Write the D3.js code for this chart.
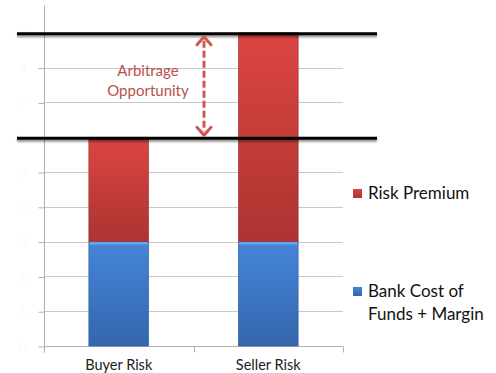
<!DOCTYPE html>
<html>
<head>
<meta charset="utf-8">
<script src="https://cdn.jsdelivr.net/npm/d3@7"></script>
<style>
  body { margin: 0; background: #fff; }
  text { font-family: Lato, "Open Sans", sans-serif; }
</style>
</head>
<body>
<svg width="496" height="373"></svg>
<script>
// chart data
var categories = ["Buyer Risk", "Seller Risk"];
var bankCost = [3, 3];
var riskPremium = [3, 6];
var seriesNames = ["Risk Premium", "Bank Cost of Funds + Margin"];
var yTicks = [0, 1, 2, 3, 4, 5, 6, 7, 8, 9];
var levels = [6, 9]; // the two black lines

var svg = d3.select("svg");
var defs = svg.append("defs");

function grad(id, c1, c2) {
  var g = defs.append("linearGradient").attr("id", id)
    .attr("x1", 0).attr("y1", 0).attr("x2", 0).attr("y2", 1);
  g.append("stop").attr("offset", "0%").attr("stop-color", c1);
  g.append("stop").attr("offset", "100%").attr("stop-color", c2);
}
grad("red", "#dc4542", "#ab3431");
grad("blue", "#4585d8", "#3466ad");

// soft shadow under the black lines (user space so a flat line still gets a region)
var shadow = defs.append("filter").attr("id", "sh").attr("filterUnits", "userSpaceOnUse")
  .attr("x", 0).attr("y", 0).attr("width", 496).attr("height", 373);
shadow.append("feGaussianBlur").attr("in", "SourceAlpha").attr("stdDeviation", 1.2);
shadow.append("feOffset").attr("dy", 1.5).attr("result", "b");
shadow.append("feComponentTransfer").append("feFuncA").attr("type", "linear").attr("slope", 0.45);
var m = shadow.append("feMerge");
m.append("feMergeNode");
m.append("feMergeNode").attr("in", "SourceGraphic");

var x = d3.scaleBand().domain(categories).range([44, 343]).paddingInner(0).paddingOuter(0);
var y = d3.scaleLinear().domain([0, 9.8]).range([346, 5]);
var barW = x.bandwidth() * 0.4;

// gridlines
svg.append("g").selectAll("line").data(yTicks.slice(1)).enter().append("line")
  .attr("x1", 44).attr("x2", 343)
  .attr("y1", function(d) { return Math.round(y(d)) + 0.5; })
  .attr("y2", function(d) { return Math.round(y(d)) + 0.5; })
  .style("stroke", "#c8c8c8").style("stroke-width", "1px");

// y axis (labels nearly invisible as in the original)
var yAxis = svg.append("g").attr("transform", "translate(44.5,0.5)")
  .call(d3.axisLeft(y).tickValues(yTicks).tickSize(6).tickSizeOuter(0));
yAxis.select(".domain").attr("d", "M0," + y(9.8) + "V" + (y(0) + 6)).style("stroke", "#b0b0b0");
yAxis.selectAll(".tick line").style("stroke", "#b0b0b0");
yAxis.selectAll(".tick text").style("fill", "#fafafa").style("font-size", "12px").attr("x", -18);

// x axis
var xAxis = svg.append("g").attr("transform", "translate(0," + (y(0) + 0.5) + ")");
xAxis.append("line").attr("x1", 44).attr("x2", 343).style("stroke", "#b0b0b0");
xAxis.selectAll(".xt").data([44, 193.5, 343]).enter().append("line")
  .attr("x1", function(d) { return Math.round(d) + 0.5; })
  .attr("x2", function(d) { return Math.round(d) + 0.5; })
  .attr("y1", 0).attr("y2", 6).style("stroke", "#b0b0b0");
xAxis.selectAll("text").data(categories).enter().append("text")
  .attr("x", function(d) { return x(d) + x.bandwidth() / 2; })
  .attr("y", 23).attr("text-anchor", "middle")
  .style("font-size", "14.5px").style("fill", "#222")
  .text(function(d) { return d; });

// bars
var bars = svg.append("g");
categories.forEach(function(c, i) {
  var bx = x(c) + (x.bandwidth() - barW) / 2;
  bars.append("rect").attr("x", bx).attr("width", barW)
    .attr("y", y(bankCost[i])).attr("height", y(0) - y(bankCost[i]))
    .style("fill", "url(#blue)").style("stroke", "#2f5d99").style("stroke-width", 0.6);
  bars.append("rect").attr("x", bx + 1).attr("width", barW - 2)
    .attr("y", y(bankCost[i]) + 0.5).attr("height", 2.5).style("fill", "#6aa6ec");
  var top = bankCost[i] + riskPremium[i];
  bars.append("rect").attr("x", bx).attr("width", barW)
    .attr("y", y(top)).attr("height", y(bankCost[i]) - y(top))
    .style("fill", "url(#red)").style("stroke", "#983230").style("stroke-width", 0.6);
});

// black level lines
svg.append("g").selectAll("line").data(levels).enter().append("line")
  .attr("x1", 17).attr("x2", 377)
  .attr("y1", function(d) { return y(d) + 1; }).attr("y2", function(d) { return y(d) + 1; })
  .style("stroke", "#000").style("stroke-width", 3).attr("filter", "url(#sh)");

// arrow
var ax = 204, ay1 = y(levels[1]) + 4, ay2 = y(levels[0]) - 2;
var arr = svg.append("g").style("stroke", "#cf5753").style("fill", "none").style("stroke-width", 3);
arr.append("line").attr("x1", ax).attr("x2", ax).attr("y1", ay1 + 4).attr("y2", ay2 - 4)
  .style("stroke-dasharray", "7,3");
arr.append("path").attr("d", "M" + (ax - 7) + "," + (ay1 + 8) + "L" + ax + "," + ay1 + "L" + (ax + 7) + "," + (ay1 + 8))
  .style("stroke-linejoin", "round").style("stroke-linecap", "round");
arr.append("path").attr("d", "M" + (ax - 7) + "," + (ay2 - 8) + "L" + ax + "," + ay2 + "L" + (ax + 7) + "," + (ay2 - 8))
  .style("stroke-linejoin", "round").style("stroke-linecap", "round");

var note = svg.append("text").attr("text-anchor", "middle").style("font-size", "15px").style("fill", "#b9504d");
note.append("tspan").attr("x", 148).attr("y", 76).text("Arbitrage");
note.append("tspan").attr("x", 148).attr("y", 96).text("Opportunity");

// legend
var legend = svg.append("g");
var legY = [189, 287];
var legFill = ["url(#red)", "url(#blue)"];
var legLines = [["Risk Premium"], ["Bank Cost of", "Funds + Margin"]];
legY.forEach(function(ly, i) {
  legend.append("rect").attr("x", 353).attr("y", ly).attr("width", 9).attr("height", 9)
    .style("fill", legFill[i]);
  var t = legend.append("text").style("font-size", "17px").style("fill", "#111");
  legLines[i].forEach(function(s, j) {
    t.append("tspan").attr("x", 368).attr("y", ly + 10 + j * 23).text(s);
  });
});
</script>
</body>
</html>
